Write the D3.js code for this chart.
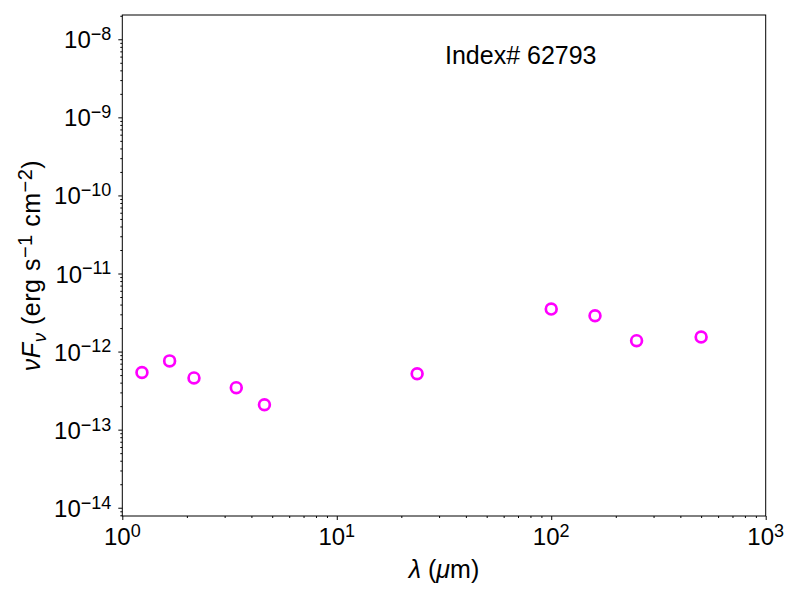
<!DOCTYPE html>
<html>
<head>
<meta charset="utf-8">
<script src="https://cdn.jsdelivr.net/npm/d3@7"></script>
<style>
  body { margin: 0; background: #fff; }
  text { font-family: "Liberation Sans", Arial, Helvetica, sans-serif; fill: #000; }
</style>
</head>
<body>
<svg id="chart"></svg>
<script>
// Photometry points (wavelength in micron, nuFnu in erg s^-1 cm^-2)
const wavelength = [1.235, 1.662, 2.159, 3.4, 4.6, 23.7, 100, 160, 250, 500];
const flux = [5.4e-13, 7.6e-13, 4.6e-13, 3.45e-13, 2.08e-13, 5.2e-13, 3.5e-12, 2.88e-12, 1.38e-12, 1.54e-12];

const xTicks = [1, 10, 100, 1000];
const xTickExp = ["0", "1", "2", "3"];
const yTicks = [1e-14, 1e-13, 1e-12, 1e-11, 1e-10, 1e-9, 1e-8];
const yTickExp = ["−14", "−13", "−12", "−11", "−10", "−9", "−8"];

const width = 800;
const height = 600;
const margin = { top: 15, right: 34.3, bottom: 84, left: 122.3 };

const svg = d3.select("#chart")
  .attr("width", width)
  .attr("height", height);

// Scales
const x = d3.scaleLog()
  .domain([1, 1000])
  .range([margin.left, width - margin.right]);

const y = d3.scaleLog()
  .domain([Math.pow(10, -14.106), Math.pow(10, -7.689)])
  .range([height - margin.bottom, margin.top]);

// Minor tick positions for each decade
function minorTicks(lo, hi) {
  const out = [];
  for (let e = lo; e < hi; e++) {
    for (let m = 2; m <= 9; m++) out.push(m * Math.pow(10, e));
  }
  return out;
}
const xMinor = minorTicks(0, 3);
const yMinor = minorTicks(-15, -7).filter(v => v >= y.domain()[0] && v <= y.domain()[1]);

const bottomY = height - margin.bottom;

// Axes: major and minor ticks, labels drawn separately
svg.append("g")
  .attr("transform", `translate(0,${bottomY})`)
  .call(d3.axisBottom(x).tickValues(xMinor).tickSize(2).tickFormat(""))
  .call(g => g.select(".domain").remove());
svg.append("g")
  .attr("transform", `translate(0,${bottomY})`)
  .call(d3.axisBottom(x).tickValues(xTicks).tickSize(4).tickFormat(""))
  .call(g => g.select(".domain").remove());

svg.append("g")
  .attr("transform", `translate(${margin.left},0)`)
  .call(d3.axisLeft(y).tickValues(yMinor).tickSize(2).tickFormat(""))
  .call(g => g.select(".domain").remove());
svg.append("g")
  .attr("transform", `translate(${margin.left},0)`)
  .call(d3.axisLeft(y).tickValues(yTicks).tickSize(4).tickFormat(""))
  .call(g => g.select(".domain").remove());

svg.selectAll(".tick line").attr("stroke", "#000").attr("stroke-width", 1);

// Frame
svg.append("rect")
  .attr("x", margin.left)
  .attr("y", margin.top)
  .attr("width", width - margin.right - margin.left)
  .attr("height", height - margin.bottom - margin.top)
  .attr("fill", "none")
  .attr("stroke", "#000")
  .attr("stroke-width", 1);

// Tick labels as 10^n
function powerLabel(sel, exp) {
  sel.append("tspan").text("10");
  sel.append("tspan")
    .attr("dy", "-0.45em")
    .attr("font-size", "0.75em")
    .text(exp);
}

xTicks.forEach((v, i) => {
  svg.append("text")
    .attr("x", x(v))
    .attr("y", bottomY + 29)
    .attr("text-anchor", "middle")
    .attr("font-size", 24)
    .call(powerLabel, xTickExp[i]);
});

yTicks.forEach((v, i) => {
  svg.append("text")
    .attr("x", margin.left - 11)
    .attr("y", y(v) + 9)
    .attr("text-anchor", "end")
    .attr("font-size", 24)
    .call(powerLabel, yTickExp[i]);
});

// Axis titles
svg.append("text")
  .attr("x", (margin.left + width - margin.right) / 2)
  .attr("y", 578)
  .attr("text-anchor", "middle")
  .attr("font-size", 25)
  .call(t => {
    t.append("tspan").attr("font-style", "italic").text("λ");
    t.append("tspan").text(" (");
    t.append("tspan").attr("font-style", "italic").text("μ");
    t.append("tspan").text("m)");
  });

svg.append("text")
  .attr("transform", `translate(40,${(margin.top + bottomY) / 2}) rotate(-90)`)
  .attr("text-anchor", "middle")
  .attr("font-size", 25)
  .attr("letter-spacing", 0.5)
  .call(t => {
    t.append("tspan").attr("font-style", "italic").text("νF");
    t.append("tspan").attr("font-style", "italic").attr("font-size", "0.75em").attr("dy", "0.3em").text("ν");
    t.append("tspan").attr("dy", "-0.22em").text(" (erg s");
    t.append("tspan").attr("font-size", "0.8em").attr("dy", "-0.42em").text("−1");
    t.append("tspan").attr("dy", "0.34em").text(" cm");
    t.append("tspan").attr("font-size", "0.8em").attr("dy", "-0.42em").text("−2");
    t.append("tspan").attr("dy", "0.34em").text(")");
  });

// Annotation
svg.append("text")
  .attr("x", 445)
  .attr("y", 64)
  .attr("font-size", 25)
  .text("Index# 62793");

// Data points
svg.append("g")
  .selectAll("circle")
  .data(wavelength)
  .join("circle")
  .attr("cx", d => x(d))
  .attr("cy", (d, i) => y(flux[i]))
  .attr("r", 5.4)
  .attr("fill", "none")
  .attr("stroke", "#ff00ff")
  .attr("stroke-width", 2.7);
</script>
</body>
</html>
